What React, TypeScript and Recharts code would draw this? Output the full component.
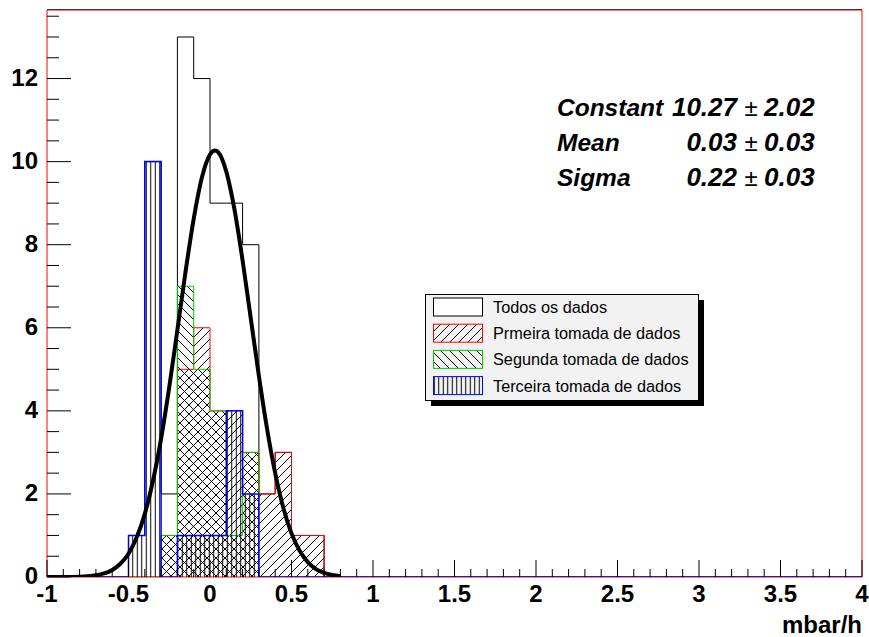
import { ComposedChart, Area, Line, XAxis, YAxis, ReferenceArea } from 'recharts'

// histogram bins (lower edge, width 0.1)
const binStarts = [-0.5, -0.4, -0.3, -0.2, -0.1, 0, 0.1, 0.2, 0.3, 0.4, 0.5, 0.6]
const binWidth = 0.1
const todosOsDados = [1, 10, 2, 13, 12, 9, 9, 8, 2, 3, 1, 1]
const primeiraTomada = [0, 0, 1, 5, 6, 4, 4, 3, 2, 3, 1, 1]
const segundaTomada = [0, 0, 1, 7, 5, 4, 1, 3, 0, 0, 0, 0]
const terceiraTomada = [1, 10, 0, 1, 1, 1, 4, 2, 0, 0, 0, 0]

// gaussian fit curve
const fitX = [
  -1, -0.9, -0.8, -0.75, -0.7, -0.65, -0.6, -0.55, -0.5, -0.45, -0.4, -0.35, -0.3, -0.25, -0.2, -0.15, -0.1,
  -0.05, 0, 0.03, 0.05, 0.1, 0.15, 0.2, 0.25, 0.3, 0.35, 0.4, 0.45, 0.5, 0.55, 0.6, 0.65, 0.7, 0.75, 0.8,
]
const fitY = [
  0.0002, 0.0014, 0.008, 0.019, 0.042, 0.086, 0.17, 0.32, 0.56, 0.95, 1.52, 2.31, 3.33, 4.57, 5.95, 7.35, 8.62,
  9.61, 10.17, 10.27, 10.23, 9.76, 8.85, 7.62, 6.23, 4.84, 3.57, 2.5, 1.66, 1.05, 0.63, 0.36, 0.19, 0.1, 0.05, 0.02,
]

const xMin = -1
const xMax = 4
const yMax = 13.65

const fitStats = [
  { name: 'Constant', value: '10.27', err: '2.02' },
  { name: 'Mean', value: '0.03', err: '0.03' },
  { name: 'Sigma', value: '0.22', err: '0.03' },
]

const legendItems = [
  { label: 'Todos os dados', stroke: '#000000', fill: '#ffffff' },
  { label: 'Prmeira tomada de dados', stroke: '#ff0000', fill: 'url(#hatchFwd)' },
  { label: 'Segunda tomada de dados', stroke: '#00cc00', fill: 'url(#hatchBack)' },
  { label: 'Terceira tomada de dados', stroke: '#0000ff', fill: 'url(#hatchVert)' },
]

const round1 = (v: number) => Math.round(v * 10) / 10

const xTicks: number[] = []
for (let i = 0; i <= 50; i++) xTicks.push(round1(xMin + i * 0.1))
const yTicks: number[] = []
for (let i = 0; i <= 27; i++) yTicks.push(i * 0.5)

const isMultiple = (v: number, step: number) => Math.abs(v / step - Math.round(v / step)) < 1e-6

function toSteps(counts: number[]) {
  const pts = [{ x: xMin, y: 0 }]
  binStarts.forEach((lo, i) => pts.push({ x: lo, y: counts[i] }))
  pts.push({ x: round1(binStarts[binStarts.length - 1] + binWidth), y: 0 })
  pts.push({ x: xMax, y: 0 })
  return pts
}

const fitData = fitX.map((x, i) => ({ x, y: fitY[i] }))

const FONT = '"Liberation Sans", Arial, Helvetica, sans-serif'

const XTick = (props: any) => {
  const { x, y, payload } = props
  const v = payload.value as number
  const major = isMultiple(v, 0.5)
  return (
    <g>
      <line x1={x} x2={x} y1={y} y2={y - (major ? 17 : 8)} stroke="#000" strokeWidth={1} />
      {major && (
        <text x={x} y={y + 25} textAnchor="middle" fontFamily={FONT} fontWeight="bold" fontSize={24} fill="#000">
          {String(v)}
        </text>
      )}
    </g>
  )
}

const YTick = (props: any) => {
  const { x, y, payload } = props
  const v = payload.value as number
  const major = isMultiple(v, 2)
  return (
    <g>
      <line x1={x} x2={x + (major ? 24 : 12)} y1={y} y2={y} stroke="#000" strokeWidth={1} />
      {major && (
        <text x={x - 9} y={y + 7} textAnchor="end" fontFamily={FONT} fontWeight="bold" fontSize={24} fill="#000">
          {String(v)}
        </text>
      )}
    </g>
  )
}

export default function App() {
  return (
    <div style={{ position: 'absolute', left: 0, top: 0, width: 869, height: 637, background: '#fff' }}>
      <ComposedChart width={869} height={637} margin={{ top: 10, right: 7, bottom: 0, left: 7 }}>
        <defs>
          <pattern id="hatchFwd" patternUnits="userSpaceOnUse" width="9" height="9">
            <path d="M-2,2 l4,-4 M0,9 l9,-9 M7,11 l4,-4" stroke="#000" strokeWidth="1" />
          </pattern>
          <pattern id="hatchBack" patternUnits="userSpaceOnUse" width="9" height="9">
            <path d="M-2,7 l4,4 M0,0 l9,9 M7,-2 l4,4" stroke="#000" strokeWidth="1" />
          </pattern>
          <pattern id="hatchVert" patternUnits="userSpaceOnUse" width="4.5" height="5">
            <path d="M2.25,0 v5" stroke="#000" strokeWidth="1" />
          </pattern>
        </defs>
        <XAxis
          dataKey="x"
          type="number"
          domain={[xMin, xMax]}
          allowDataOverflow
          ticks={xTicks}
          interval={0}
          tick={XTick}
          tickLine={false}
          axisLine={false}
          tickSize={0}
          tickMargin={0}
          height={60}
        />
        <YAxis
          type="number"
          domain={[0, yMax]}
          allowDataOverflow
          ticks={yTicks}
          interval={0}
          tick={YTick}
          tickLine={false}
          axisLine={false}
          tickSize={0}
          tickMargin={0}
          width={40}
        />
        <ReferenceArea x1={xMin} x2={xMax} y1={0} y2={yMax} fill="none" stroke="#ff0000" strokeWidth={1} />
        <Area
          data={toSteps(todosOsDados)}
          dataKey="y"
          type="stepAfter"
          stroke="#000000"
          strokeWidth={1}
          fill="none"
          dot={false}
          activeDot={false}
          isAnimationActive={false}
        />
        <Area
          data={toSteps(primeiraTomada)}
          dataKey="y"
          type="stepAfter"
          stroke="#ff0000"
          strokeWidth={1}
          fill="url(#hatchFwd)"
          fillOpacity={1}
          dot={false}
          activeDot={false}
          isAnimationActive={false}
        />
        <Area
          data={toSteps(segundaTomada)}
          dataKey="y"
          type="stepAfter"
          stroke="#00cc00"
          strokeWidth={1}
          fill="url(#hatchBack)"
          fillOpacity={1}
          dot={false}
          activeDot={false}
          isAnimationActive={false}
        />
        <Area
          data={toSteps(terceiraTomada)}
          dataKey="y"
          type="stepAfter"
          stroke="#0000ff"
          strokeWidth={1.5}
          fill="url(#hatchVert)"
          fillOpacity={1}
          dot={false}
          activeDot={false}
          isAnimationActive={false}
        />
        <Line
          data={fitData}
          dataKey="y"
          type="monotone"
          stroke="#000000"
          strokeWidth={4}
          dot={false}
          activeDot={false}
          isAnimationActive={false}
        />
      </ComposedChart>

      <svg width={869} height={637} style={{ position: 'absolute', left: 0, top: 0, pointerEvents: 'none' }}>
        <line x1={47} x2={862} y1={9.5} y2={9.5} stroke="#333" strokeWidth={1} />
        {fitStats.map((s, i) => {
          const base = 116 + i * 35
          return (
            <g key={s.name} fontFamily={FONT} fill="#000">
              <text x={557} y={base} fontSize={24.5} fontWeight="bold" fontStyle="italic">
                {s.name}
              </text>
              <text x={737} y={base} textAnchor="end" fontSize={26} fontWeight="bold" fontStyle="italic">
                {s.value}
              </text>
              <text x={751} y={base} textAnchor="middle" fontSize={24}>
                ±
              </text>
              <text x={764} y={base} fontSize={26} fontWeight="bold" fontStyle="italic">
                {s.err}
              </text>
            </g>
          )
        })}
        <text x={862} y={633} textAnchor="end" fontFamily={FONT} fontWeight="bold" fontSize={24} fill="#000">
          mbar/h
        </text>

        <rect x={431} y={300} width={273} height={106} fill="#000" />
        <rect x={425.5} y={294.5} width={273} height={106} fill="#f2f2f2" stroke="#000" strokeWidth={1} />
        {legendItems.map((it, i) => {
          const cy = 307 + i * 26.2
          return (
            <g key={it.label}>
              <rect x={433.5} y={cy - 9} width={49} height={18} fill={it.fill} stroke={it.stroke} strokeWidth={1} />
              <text x={493} y={cy + 6} fontFamily={FONT} fontSize={16.3} fill="#000">
                {it.label}
              </text>
            </g>
          )
        })}
      </svg>
    </div>
  )
}
